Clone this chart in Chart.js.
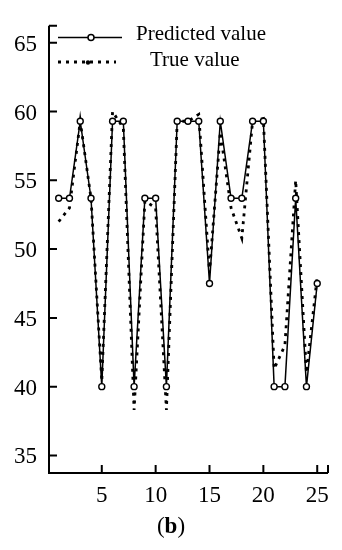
<!DOCTYPE html>
<html lang="en">
<head>
  <meta charset="UTF-8">
  <title>Predicted vs true value</title>
  <script src="https://cdn.jsdelivr.net/npm/chart.js"></script>
  <style>
    body { margin: 0; background: #fff; }
    #wrap { position: relative; width: 342px; height: 550px; }
    #caption { position: absolute; left: 0; width: 342px; top: 513px; text-align: center;
      font-family: 'Liberation Serif', serif; font-size: 23px; color: #000; }
  </style>
</head>
<body>
  <div id="wrap">
    <canvas id="chart" width="342" height="550"></canvas>
    <div id="caption">(<b>b</b>)</div>
  </div>

  <script>
    // sample index 1..25
    const samples = [1,2,3,4,5,6,7,8,9,10,11,12,13,14,15,16,17,18,19,20,21,22,23,24,25];
    const predicted = [53.7,53.7,59.3,53.7,40,59.3,59.3,40,53.7,53.7,40,59.3,59.3,59.3,47.5,59.3,53.7,53.7,59.3,59.3,40,40,53.7,40,47.5];
    const trueVals = [52,53,59.3,53.7,40.4,60,58.8,38.3,53.5,53,38.3,59.3,59.3,59.8,48.3,58.5,53,50.8,59.3,59.5,41.3,43,55,41,48];

    const xTicks = [5, 10, 15, 20, 25];
    const yTicks = [35, 40, 45, 50, 55, 60, 65];

    const serif = "'Liberation Serif', 'Times New Roman', serif";

    // axes with inward ticks + legend inside the plot
    const axesAndLegend = {
      id: 'axesAndLegend',
      afterDraw(chart) {
        const { ctx, chartArea: a, scales } = chart;
        ctx.save();
        ctx.strokeStyle = '#000';
        ctx.lineWidth = 2;
        ctx.beginPath();
        ctx.moveTo(a.left, a.top);
        ctx.lineTo(a.left, a.bottom);
        ctx.lineTo(a.right, a.bottom);
        // end caps
        ctx.moveTo(a.left, a.top); ctx.lineTo(a.left + 8, a.top);
        ctx.moveTo(a.right, a.bottom); ctx.lineTo(a.right, a.bottom - 8);
        yTicks.forEach(v => {
          const y = scales.y.getPixelForValue(v);
          ctx.moveTo(a.left, y); ctx.lineTo(a.left + 8, y);
        });
        xTicks.forEach(v => {
          const x = scales.x.getPixelForValue(v);
          ctx.moveTo(x, a.bottom); ctx.lineTo(x, a.bottom - 8);
        });
        ctx.stroke();

        // legend
        const lx = a.left + 9;
        ctx.lineWidth = 1.5;
        ctx.setLineDash([]);
        ctx.beginPath();
        ctx.moveTo(lx, 37.5); ctx.lineTo(lx + 64, 37.5);
        ctx.stroke();
        ctx.beginPath();
        ctx.arc(lx + 33, 37.5, 3, 0, Math.PI * 2);
        ctx.fillStyle = '#fff';
        ctx.fill();
        ctx.stroke();

        ctx.lineWidth = 2.8;
        ctx.setLineDash([3, 5]);
        ctx.beginPath();
        ctx.moveTo(lx, 62); ctx.lineTo(lx + 58, 62);
        ctx.stroke();
        ctx.setLineDash([]);
        ctx.fillStyle = '#000';
        ctx.beginPath();
        ctx.arc(lx + 30, 62.5, 2.2, 0, Math.PI * 2);
        ctx.fill();

        ctx.fillStyle = '#000';
        ctx.font = '21px ' + serif;
        ctx.textBaseline = 'middle';
        ctx.textAlign = 'left';
        ctx.fillText('Predicted value', 136, 34);
        ctx.fillText('True value', 150, 60);
        ctx.restore();
      }
    };

    new Chart(document.getElementById('chart'), {
      type: 'line',
      data: {
        labels: samples,
        datasets: [{
          label: 'Predicted value',
          data: samples.map((s, i) => ({ x: s, y: predicted[i] })),
          borderColor: '#000',
          borderWidth: 1.5,
          pointRadius: 3,
          pointBorderWidth: 1.4,
          pointBackgroundColor: '#fff',
          pointBorderColor: '#000',
          tension: 0,
          fill: false
        }, {
          label: 'True value',
          data: samples.map((s, i) => ({ x: s, y: trueVals[i] })),
          borderColor: '#000',
          borderWidth: 2.8,
          borderDash: [3, 5],
          pointRadius: 0,
          tension: 0,
          fill: false
        }]
      },
      options: {
        responsive: false,
        animation: false,
        layout: { padding: { left: 0, top: 14, right: 14, bottom: 0 } },
        plugins: { legend: { display: false }, tooltip: { enabled: false } },
        scales: {
          x: {
            type: 'linear',
            min: 0.1,
            max: 26,
            afterBuildTicks: s => { s.ticks = xTicks.map(v => ({ value: v })); },
            afterFit: s => { s.height = 77; },
            grid: { display: false, drawTicks: false },
            border: { display: false },
            ticks: { color: '#000', padding: 9, maxRotation: 0, font: { family: serif, size: 23 } }
          },
          y: {
            min: 33.72,
            max: 66.24,
            afterBuildTicks: s => { s.ticks = yTicks.map(v => ({ value: v })); },
            afterFit: s => { s.width = 49; },
            grid: { display: false, drawTicks: false },
            border: { display: false },
            ticks: { color: '#000', padding: 12, labelOffset: 2, font: { family: serif, size: 23 } }
          }
        }
      },
      plugins: [axesAndLegend]
    });
  </script>
</body>
</html>
